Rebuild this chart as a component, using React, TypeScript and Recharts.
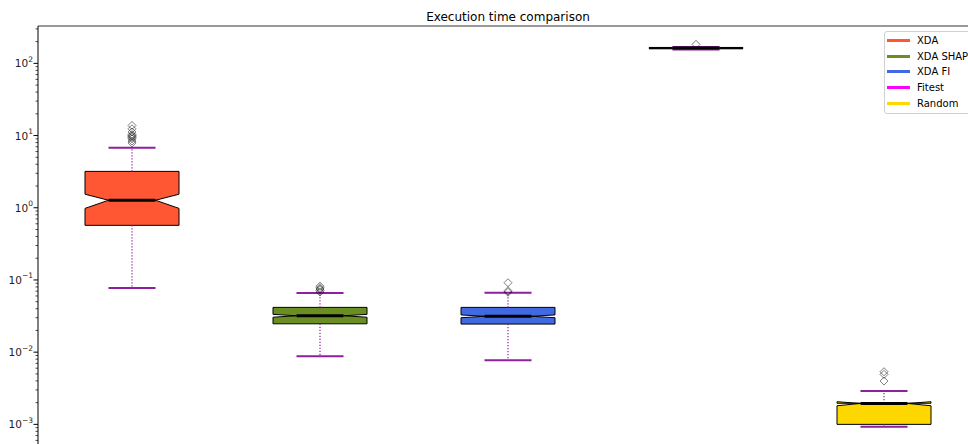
import React from "react";
import { ComposedChart, Scatter, XAxis, YAxis } from "recharts";

// box statistics
const methods = ["XDA", "XDA SHAP", "XDA FI", "Fitest", "Random"];
const boxColors = ["#ff5733", "#6b8e23", "#4169e1", "#ff00ff", "#ffd700"];
const whiskerLow = [0.0773, 0.00875, 0.0077, 156, 0.000927];
const q1 = [0.571, 0.0247, 0.0245, 159, 0.001];
const median = [1.27, 0.0319, 0.0314, 162.5, 0.00195];
const q3 = [3.19, 0.0417, 0.0417, 166, 0.00196];
const whiskerHigh = [6.78, 0.0659, 0.0663, 169, 0.00289];
const notchLo = [0.98, 0.0305, 0.03, 160.5, 0.00181];
const notchHi = [1.54, 0.0334, 0.0328, 164.5, 0.00206];
const outliers = [
  [7.9, 8.4, 9.0, 9.4, 9.7, 10.0, 10.3, 11.2, 12.4, 13.8],
  [0.068, 0.072, 0.075, 0.078, 0.082],
  [0.0675, 0.0708, 0.0915],
  [183],
  [0.00398, 0.00493, 0.00536],
];
const majorTicks = [0.001, 0.01, 0.1, 1, 10, 100];

const Y_DOMAIN = [0.000518, 329];
const HALF = 0.25;
const CAP = 0.125;
const WHISKER = "#8e1f9e";
const FONT = "DejaVu Sans, sans-serif";

const minorTicks = [0.0001, ...majorTicks].flatMap((m) =>
  [2, 3, 4, 5, 6, 7, 8, 9].map((k) => +(m * k).toPrecision(3))
).filter((v) => v > Y_DOMAIN[0] && v < Y_DOMAIN[1]);
const allTicks = [...majorTicks, ...minorTicks].sort((a, b) => a - b);

const toPath = (pts: any[], close = false) =>
  pts.map((p, i) => `${i ? "L" : "M"}${p.x},${p.y}`).join("") + (close ? "Z" : "");

const noDot = () => <g />;

const boxLine = (fill: string) => (p: any) =>
  <path d={toPath(p.points, true)} fill={fill} stroke="#000" strokeWidth={1} />;

const segLine = (stroke: string, width: number, dash?: string) => (p: any) =>
  <path d={toPath(p.points)} fill="none" stroke={stroke} strokeWidth={width} strokeDasharray={dash} />;

const diamond = (p: any) => {
  const { cx, cy } = p;
  return (
    <path
      d={`M${cx},${cy - 4}L${cx + 4},${cy}L${cx},${cy + 4}L${cx - 4},${cy}Z`}
      fill="none"
      stroke="rgba(0,0,0,0.5)"
      strokeWidth={1}
    />
  );
};

function LogTick(props: any) {
  const { x, y, payload } = props;
  const e = Math.log10(payload.value);
  const n = Math.round(e);
  const major = Math.abs(e - n) < 1e-6;
  return (
    <g>
      <line x1={x - (major ? 4.5 : 2.5)} x2={x} y1={y} y2={y} stroke="#000" strokeWidth={major ? 1 : 0.7} />
      {major && (
        <text x={x - 5} y={y} textAnchor="end" dominantBaseline="central" fontSize={10.5} fill="#222" fontFamily={FONT}>
          10
          <tspan dy={-4.5} fontSize={7.5}>{n < 0 ? "\u2212" + Math.abs(n) : n}</tspan>
        </text>
      )}
    </g>
  );
}

function Legend() {
  return (
    <div
      style={{
        position: "absolute", left: 884, top: 31, width: 100, height: 83,
        border: "1px solid #d0d0d0", borderRadius: 3, background: "rgba(255,255,255,0.8)",
        fontFamily: FONT, fontSize: 10, color: "#000", boxSizing: "border-box", paddingTop: 0.5,
      }}
    >
      {methods.map((m, i) => (
        <div key={m} style={{ display: "flex", alignItems: "center", height: 15.8 }}>
          <span style={{ display: "inline-block", marginLeft: 2, width: 23, height: 3, background: boxColors[i] }} />
          <span style={{ marginLeft: 7, whiteSpace: "nowrap" }}>{m}</span>
        </div>
      ))}
    </div>
  );
}

export default function App() {
  const series: React.ReactNode[] = [];
  methods.forEach((m, i) => {
    const pos = i + 1;
    const L = pos - HALF, R = pos + HALF, cl = pos - CAP, cr = pos + CAP;
    const bx = [L, R, R, cr, R, R, L, L, cl, L, L];
    const by = [q1[i], q1[i], notchLo[i], median[i], notchHi[i], q3[i], q3[i], notchHi[i], median[i], notchLo[i], q1[i]];
    series.push(
      <Scatter key={`box${i}`} data={bx.map((x, j) => ({ x, y: by[j] }))} shape={noDot} line={boxLine(boxColors[i])} isAnimationActive={false} />,
      <Scatter key={`wl${i}`} data={[{ x: pos, y: q1[i] }, { x: pos, y: whiskerLow[i] }]} shape={noDot} line={segLine(WHISKER, 1.2, "1.2 1.8")} isAnimationActive={false} />,
      <Scatter key={`wh${i}`} data={[{ x: pos, y: q3[i] }, { x: pos, y: whiskerHigh[i] }]} shape={noDot} line={segLine(WHISKER, 1.2, "1.2 1.8")} isAnimationActive={false} />,
      <Scatter key={`cl${i}`} data={[{ x: cl, y: whiskerLow[i] }, { x: cr, y: whiskerLow[i] }]} shape={noDot} line={segLine(WHISKER, 2)} isAnimationActive={false} />,
      <Scatter key={`ch${i}`} data={[{ x: cl, y: whiskerHigh[i] }, { x: cr, y: whiskerHigh[i] }]} shape={noDot} line={segLine(WHISKER, 2)} isAnimationActive={false} />,
      <Scatter key={`md${i}`} data={[{ x: cl, y: median[i] }, { x: cr, y: median[i] }]} shape={noDot} line={segLine("#000", 3)} isAnimationActive={false} />,
      <Scatter key={`fl${i}`} data={outliers[i].map((y) => ({ x: pos, y }))} shape={diamond} isAnimationActive={false} />
    );
  });

  return (
    <div style={{ position: "absolute", left: 0, top: 0, width: 968, height: 444, overflow: "hidden", background: "#fff" }}>
      <ComposedChart width={990} height={456} margin={{ top: 0, right: 12, bottom: 11, left: 0 }}>
        <XAxis
          dataKey="x"
          type="number"
          orientation="top"
          domain={[0.5, 5.5]}
          allowDataOverflow
          height={26}
          tick={false}
          tickLine={false}
          axisLine={{ stroke: "#777", strokeWidth: 1.5 }}
          label={{ value: "Execution time comparison", position: "insideBottom", offset: 5, fill: "#000", fontSize: 12, fontFamily: FONT }}
        />
        <YAxis
          dataKey="y"
          type="number"
          scale="log"
          domain={Y_DOMAIN}
          allowDataOverflow
          width={38}
          ticks={allTicks}
          interval={0}
          tickSize={0}
          tickMargin={0}
          tickLine={false}
          tick={<LogTick />}
          axisLine={{ stroke: "#000", strokeWidth: 1 }}
        />
        {series}
      </ComposedChart>
      <Legend />
    </div>
  );
}
